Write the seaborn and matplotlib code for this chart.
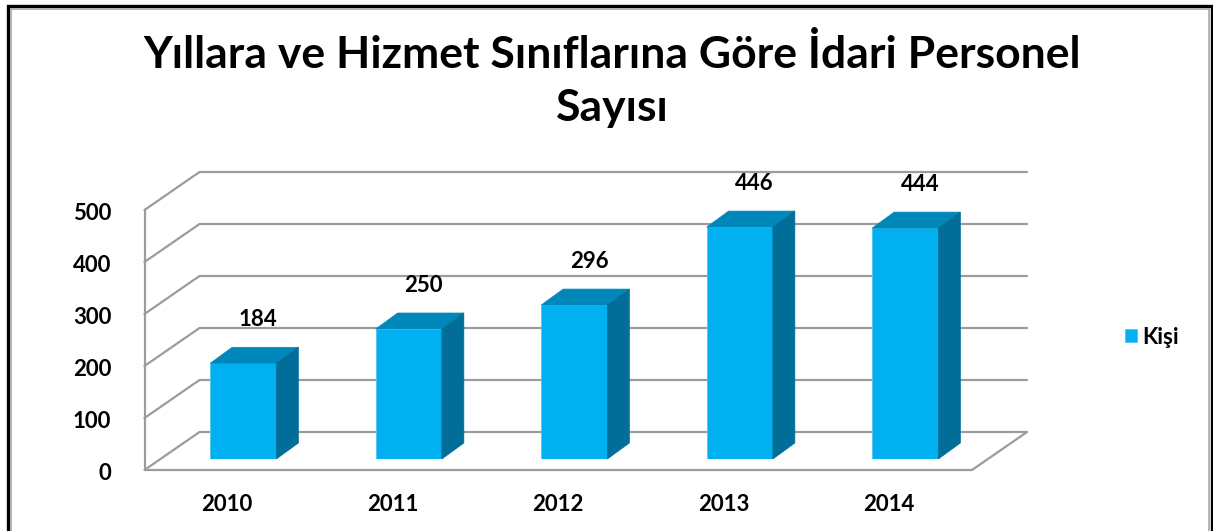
import matplotlib
matplotlib.use("Agg")
import matplotlib.pyplot as plt
from matplotlib.patches import Polygon, Rectangle
from matplotlib.transforms import ScaledTranslation
import seaborn as sns
import pandas as pd
import numpy as np

# ---- data ----
years = ["2010", "2011", "2012", "2013", "2014"]
values = [184, 250, 296, 446, 444]
yticks = [0, 100, 200, 300, 400, 500]
series_name = "Kişi"
title = "Yıllara ve Hizmet Sınıflarına Göre İdari Personel\nSayısı"

sns.set_theme(style="white")
plt.rcParams['font.family'] = ['Lato', 'DejaVu Sans']
plt.rcParams['font.weight'] = 'bold'
plt.rcParams['text.color'] = 'black'
plt.rcParams['xtick.color'] = 'black'
plt.rcParams['ytick.color'] = 'black'

FRONT = "#00B0F0"
TOP = "#0087BA"
SIDE = "#006E98"
GRID = "#9C9C9C"

W, H = 1213, 531
fig = plt.figure(figsize=(W / 100, H / 100), dpi=100)
fig.patch.set_facecolor("white")

# axes = plane of bar front faces
ax_left, ax_right = 160.5, 988.0
ax_bottom_img, ax_top_img = 459.0, 199.0
ax = fig.add_axes([ax_left / W, (H - ax_bottom_img) / H,
                   (ax_right - ax_left) / W, (ax_bottom_img - ax_top_img) / H])
ax.set_facecolor("none")

df = pd.DataFrame({"Yıl": years, series_name: values})
sns.barplot(data=df, x="Yıl", y=series_name, color=FRONT, saturation=1,
            width=0.4, ax=ax, label=series_name, edgecolor="#4FC8F4",
            linewidth=0.6, zorder=3)
if ax.get_legend() is not None:
    ax.get_legend().remove()
ax.set_xlim(-0.5, len(years) - 0.5)
ax.set_ylim(0, 500)

fig.canvas.draw()


def px_off(dx, dy):
    """convert a display-pixel offset into a data offset"""
    o = ax.transData.transform((0, 0))
    p = ax.transData.inverted().transform(o + np.array([dx, dy]))
    return p[0], p[1]


fx, fy = px_off(-16, -11)   # front edge of floor
bx, by = px_off(39, 27)     # back wall
dx, dy = px_off(22, 16)     # bar depth

x0, x1 = -0.5, len(years) - 0.5
lkw = dict(color=GRID, lw=1.6, clip_on=False, zorder=1, solid_capstyle="round")
for v in yticks:
    ax.plot([x0 + bx, x1 + bx], [v + by, v + by], **lkw)
    ax.plot([x0 + fx, x0 + bx], [v + fy, v + by], **lkw)
ax.plot([x0 + fx, x0 + fx], [fy, yticks[-1] + fy], **lkw)
ax.plot([x0 + fx, x1 + fx], [fy, fy], **lkw)
ax.plot([x1 + fx, x1 + bx], [fy, by], **lkw)

# 3D faces of bars
for p in ax.patches:
    xl, w, h = p.get_x(), p.get_width(), p.get_height()
    top = Polygon([(xl, h), (xl + w, h), (xl + w + dx, h + dy), (xl + dx, h + dy)],
                  closed=True, facecolor=TOP, edgecolor=TOP, lw=0.5,
                  clip_on=False, zorder=3)
    side = Polygon([(xl + w, 0), (xl + w + dx, dy), (xl + w + dx, h + dy), (xl + w, h)],
                   closed=True, facecolor=SIDE, edgecolor=SIDE, lw=0.5,
                   clip_on=False, zorder=3)
    ax.add_patch(top)
    ax.add_patch(side)

# value labels
for i, v in enumerate(values):
    ax.annotate(str(v), xy=(i, v), xytext=(15, 44), textcoords="offset pixels",
                ha="center", va="center", fontsize=16, fontweight="bold",
                color="black", annotation_clip=False)

# ticks
for s in ax.spines.values():
    s.set_visible(False)
ax.set_xlabel("")
ax.set_ylabel("")
ax.set_yticks(yticks)
ax.set_yticklabels([str(t) for t in yticks])
ax.tick_params(axis="y", length=0, pad=24, labelsize=16)
ax.tick_params(axis="x", length=0, pad=25, labelsize=16)
for lab in ax.get_yticklabels():
    lab.set_fontweight("bold")
    lab.set_transform(lab.get_transform() + ScaledTranslation(-16 / 100, -13 / 100, fig.dpi_scale_trans))
for lab in ax.get_xticklabels():
    lab.set_fontweight("bold")
    lab.set_transform(lab.get_transform() + ScaledTranslation(-16 / 100, 0, fig.dpi_scale_trans))

# legend
handles, labels = ax.get_legend_handles_labels()
leg = fig.legend(handles[:1], labels[:1], loc="center left",
                 bbox_to_anchor=(1125 / W, 1 - 337 / H), frameon=False,
                 prop=dict(size=16, weight="bold"), handlelength=0.52,
                 handleheight=0.52, handletextpad=0.25, borderpad=0,
                 borderaxespad=0)

# title
fig.text(612 / W, 1 - 81 / H, title, ha="center", va="center",
         fontsize=32, fontweight="bold", linespacing=1.42, color="black")

# figure border
fig.add_artist(Rectangle((8 / W, -0.05), (1211.5 - 8) / W, 1.05 - 6.5 / H,
                         transform=fig.transFigure, fill=False,
                         edgecolor="black", lw=2.4))
fig.add_artist(Rectangle((10.5 / W, -0.05), (1209 - 10.5) / W, 1.05 - 9 / H,
                         transform=fig.transFigure, fill=False,
                         edgecolor="#A8A8A8", lw=1.2))

fig.savefig("out.png", dpi=100)
